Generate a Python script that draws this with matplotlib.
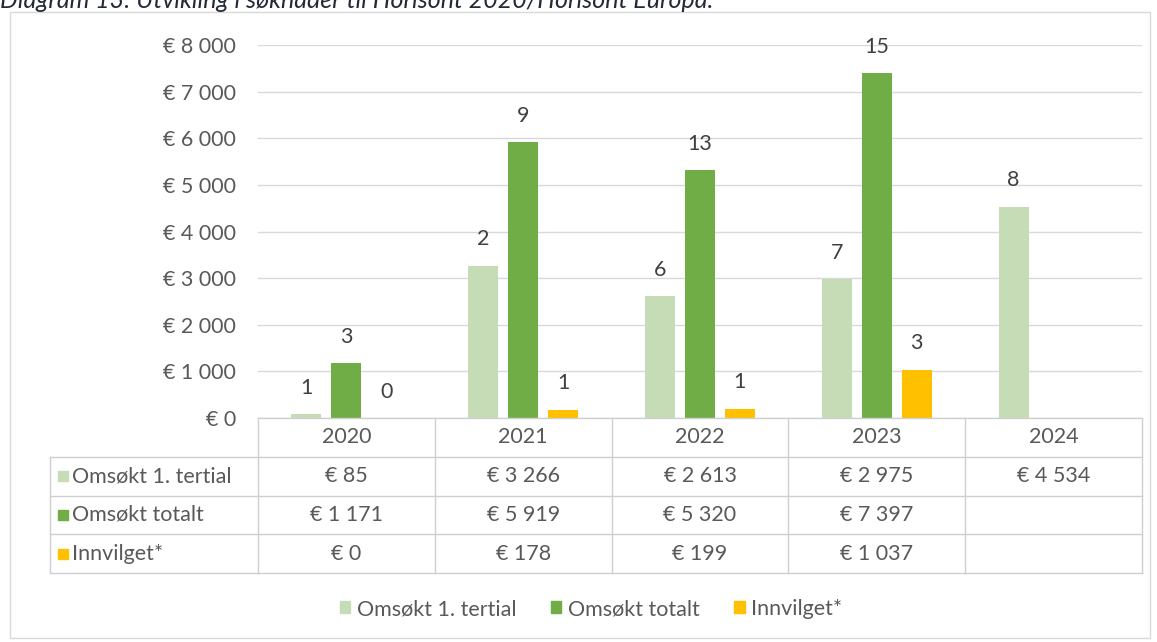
import numpy as np
import matplotlib.pyplot as plt
from matplotlib.patches import Rectangle

plt.rcParams['font.family'] = ['Lato', 'DejaVu Sans']

years = ['2020', '2021', '2022', '2023', '2024']
series = ['Omsøkt 1. tertial', 'Omsøkt totalt', 'Innvilget*']
tertial = [85, 3266, 2613, 2975, 4534]
totalt = [1171, 5919, 5320, 7397, np.nan]
innvilget = [0, 178, 199, 1037, np.nan]
# number of applications shown above the bars
n_tertial = [1, 2, 6, 7, 8]
n_totalt = [3, 9, 13, 15, None]
n_innvilget = [0, 1, 1, 3, None]
yticks = [0, 1000, 2000, 3000, 4000, 5000, 6000, 7000, 8000]

colors = ['#c5dcb6', '#70ad47', '#ffc000']
txt = '#595959'
grid = '#d9d9d9'
fs = 15.5
W, H = 1157, 642


def eur(v):
    return '€ ' + f'{int(v):,}'.replace(',', ' ')


fig = plt.figure(figsize=(W / 100, H / 100), dpi=100)

# chart border
fig.patches.append(Rectangle((10 / W, 1 - 638 / H), 1140 / W, 626 / H,
                             transform=fig.transFigure, fill=False, ec=grid, lw=1))

fig.text(0, 1 - 8 / H, 'Diagram 13: Utvikling i søknader til Horisont 2020/Horisont Europa.',
         style='italic', fontsize=18, va='baseline', color='#222a35')

# bars
ax = fig.add_axes([258 / W, 1 - 418 / H, 884 / W, 373 / H])
x = np.arange(len(years))
width = 0.17
step = 0.226
values = [tertial, totalt, innvilget]
counts = [n_tertial, n_totalt, n_innvilget]
for k, (vals, cnts) in enumerate(zip(values, counts)):
    pos = x + (k - 1) * step
    ax.bar(pos, vals, width, color=colors[k], zorder=2)
    for p, v, c in zip(pos, vals, cnts):
        if c is None:
            continue
        ax.annotate(str(c), (p, v), xytext=(0, 19), textcoords='offset points',
                    ha='center', va='center', fontsize=fs, color='#404040')

ax.set_xlim(-0.5, 4.5)
ax.set_ylim(0, 8000)
ax.set_yticks(yticks)
ax.set_yticklabels([eur(v) for v in yticks])
ax.set_xticks([])
ax.tick_params(axis='y', length=0, pad=16, labelsize=fs, labelcolor=txt)
ax.yaxis.grid(True, color=grid, lw=1)
ax.set_axisbelow(True)
for s in ax.spines.values():
    s.set_visible(False)

# data table under the chart
lab_w = (258 - 50) / 884 * 5
ax_t = fig.add_axes([50 / W, 1 - 573 / H, 1092 / W, 155 / H])
ax_t.set_xlim(-0.5 - lab_w, 4.5)
ax_t.set_ylim(4, 0)
ax_t.axis('off')
line = dict(color='#cfcfcf', lw=1, clip_on=False)
ax_t.plot([-0.5, 4.5], [0, 0], **line)
for r in [1, 2, 3, 4]:
    ax_t.plot([-0.5 - lab_w, 4.5], [r, r], **line)
ax_t.plot([-0.5 - lab_w, -0.5 - lab_w], [1, 4], **line)
for c in np.arange(-0.5, 5.0, 1.0):
    ax_t.plot([c, c], [0, 4], **line)

for i, yr in enumerate(years):
    ax_t.text(i, 0.5, yr, ha='center', va='center', fontsize=fs, color=txt)

for r, (name, vals) in enumerate(zip(series, values), start=1):
    mx = -0.5 - lab_w + 0.075
    ax_t.plot(mx, r + 0.5, marker='s', ms=7, color=colors[r - 1], clip_on=False)
    ax_t.text(mx + 0.05, r + 0.5, name, ha='left', va='center', fontsize=fs, color=txt)
    for i, v in enumerate(vals):
        if np.isnan(v):
            continue
        ax_t.text(i, r + 0.5, eur(v), ha='center', va='center', fontsize=fs, color=txt)

handles = [Rectangle((0, 0), 1, 1, color=c) for c in colors]
fig.legend(handles, series, loc='center', bbox_to_anchor=(591 / W, 1 - 609 / H), ncol=3,
           frameon=False, fontsize=fs, handlelength=0.5, handleheight=0.5,
           handletextpad=0.3, columnspacing=1.6, labelcolor=txt)

fig.savefig('out.png', dpi=100)
